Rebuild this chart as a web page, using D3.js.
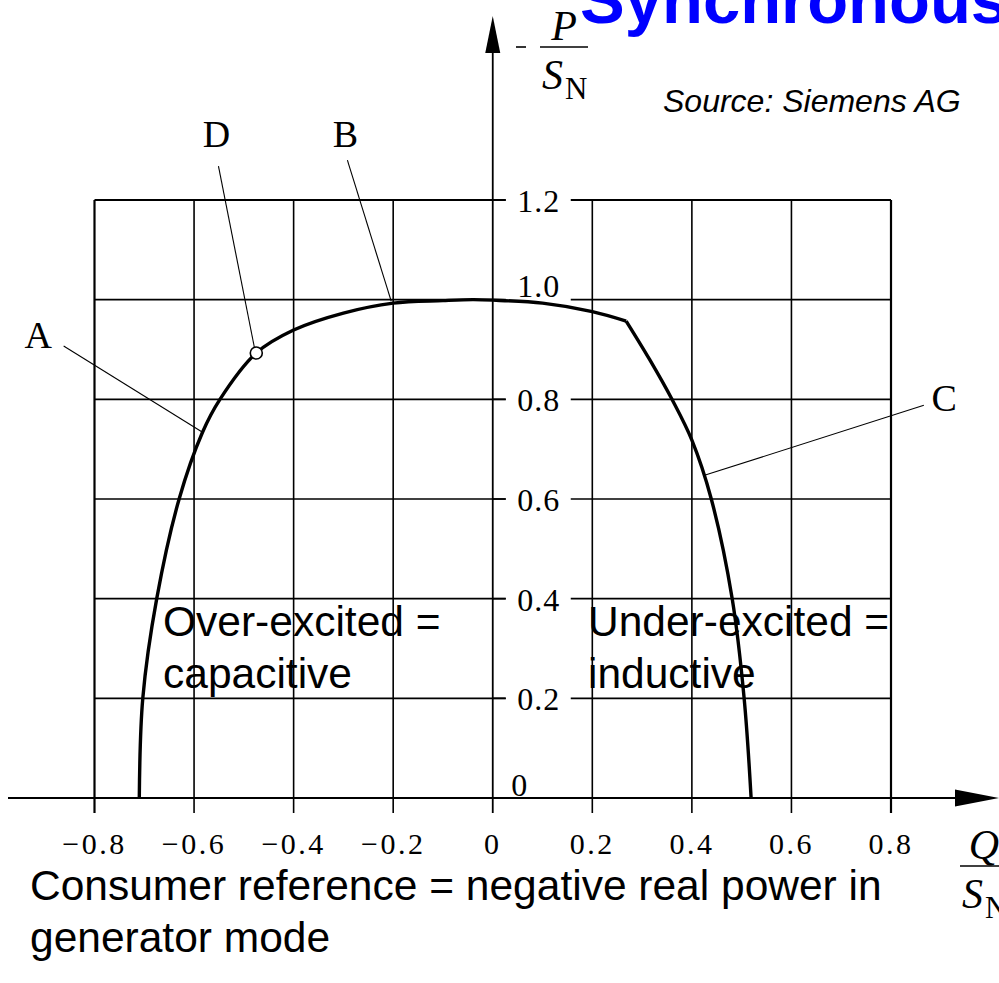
<!DOCTYPE html>
<html>
<head>
<meta charset="utf-8">
<script src="https://cdn.jsdelivr.net/npm/d3@7"></script>
<style>
  html, body { margin: 0; padding: 0; background: #fff; }
  svg { display: block; }
</style>
</head>
<body>
<svg id="chart" width="999" height="983"></svg>
<script>
// Operating limit diagram of a synchronous machine (P/S_N over Q/S_N)
const qTicks = [-0.8, -0.6, -0.4, -0.2, 0, 0.2, 0.4, 0.6, 0.8];
const qTickLabels = ["\u22120.8", "\u22120.6", "\u22120.4", "\u22120.2", "0", "0.2", "0.4", "0.6", "0.8"];
const pTicks = [0, 0.2, 0.4, 0.6, 0.8, 1.0, 1.2];
const pTickLabels = ["0", "0.2", "0.4", "0.6", "0.8", "1.0", "1.2"];

// Limit curve, left branch up to the corner point
const limitLeftQ = [-0.71, -0.703, -0.675, -0.63, -0.583, -0.548, -0.475, -0.40, -0.30, -0.20, -0.10, -0.04, 0.0, 0.10, 0.20, 0.268];
const limitLeftP = [0.0, 0.2, 0.4, 0.6, 0.734, 0.8, 0.893, 0.939, 0.973, 0.993, 0.998, 1.0, 0.999, 0.993, 0.976, 0.957];
// Right branch (stability limit) from the corner point down to P = 0
const limitRightQ = [0.268, 0.315, 0.36, 0.40, 0.439, 0.481, 0.505, 0.519];
const limitRightP = [0.957, 0.88, 0.8, 0.718, 0.6, 0.4, 0.2, 0.0];

// Marked operating point D
const pointD = { q: -0.475, p: 0.893 };

// Letter callouts: label position and leader line (in Q/S_N, P/S_N units)
const calloutNames = ["A", "B", "C", "D"];
const calloutLabelQ = [-0.913, -0.296, 0.907, -0.555];
const calloutLabelP = [0.929, 1.332, 0.802, 1.332];
const calloutFromQ = [-0.862, -0.292, 0.866, -0.551];
const calloutFromP = [0.907, 1.280, 0.788, 1.268];
const calloutToQ = [-0.583, -0.204, 0.427, -0.479];
const calloutToP = [0.734, 0.997, 0.648, 0.905];

const svg = d3.select("#chart");
svg.append("rect").attr("width", 999).attr("height", 983).attr("fill", "#fff");

const x = d3.scaleLinear().domain([-0.8, 0.8]).range([94.5, 891]);
const y = d3.scaleLinear().domain([0, 1.2]).range([798, 200]);

const serif = "'Liberation Serif', 'Times New Roman', serif";
const sans = "'Liberation Sans', Arial, sans-serif";

// Title (runs off the top edge)
svg.append("text")
  .attr("x", 580).attr("y", 23)
  .attr("font-family", sans).attr("font-weight", "bold")
  .attr("font-size", 67).attr("fill", "#0000ff")
  .text("Synchronous");

// Grid
const grid = svg.append("g").attr("stroke", "#000").attr("fill", "none");
pTicks.filter(d => d > 0).forEach(p => {
  grid.append("line")
    .attr("x1", x(-0.8)).attr("x2", x(0.8))
    .attr("y1", y(p)).attr("y2", y(p))
    .attr("stroke-width", p === 1.2 ? 2.2 : 1.6);
});
qTicks.forEach(q => {
  if (q === 0) return;
  grid.append("line")
    .attr("x1", x(q)).attr("x2", x(q))
    .attr("y1", y(1.2)).attr("y2", y(0) + 15)
    .attr("stroke-width", Math.abs(q) === 0.8 ? 2.2 : 1.6);
});

// Gaps in the grid for the P tick labels
pTicks.filter(d => d > 0).forEach(p => {
  svg.append("rect")
    .attr("x", x(0) + 13).attr("y", y(p) - 4)
    .attr("width", 65).attr("height", 8)
    .attr("fill", "#fff");
});

// Axes
svg.append("line")
  .attr("x1", 8).attr("x2", 962).attr("y1", y(0)).attr("y2", y(0))
  .attr("stroke", "#000").attr("stroke-width", 2);
svg.append("path")
  .attr("d", `M999,${y(0)} L955,${y(0) - 8.5} L955,${y(0) + 8.5} Z`)
  .attr("fill", "#000");
svg.append("line")
  .attr("x1", x(0)).attr("x2", x(0)).attr("y1", 48).attr("y2", y(0) + 15)
  .attr("stroke", "#000").attr("stroke-width", 1.8);
svg.append("path")
  .attr("d", `M${x(0)},16 L${x(0) - 7.5},53 L${x(0) + 7.5},53 Z`)
  .attr("fill", "#000");
// short tick stubs to the right of the P axis
pTicks.filter(d => d > 0 && d !== 1.0).forEach(p => {
  svg.append("line")
    .attr("x1", x(0)).attr("x2", x(0) + 13)
    .attr("y1", y(p)).attr("y2", y(p))
    .attr("stroke", "#000").attr("stroke-width", 1.6);
});

// P tick labels
svg.append("g").selectAll("text")
  .data(pTicks)
  .join("text")
  .attr("x", d => d === 0 ? x(0) + 27 : x(0) + 46)
  .attr("y", d => d === 0 ? y(0) - 13 : (d === 1.0 ? y(d) - 14 : y(d) + 1))
  .attr("dominant-baseline", "central")
  .attr("text-anchor", "middle")
  .attr("font-family", serif).attr("font-size", 32)
  .attr("letter-spacing", 1)
  .text((d, i) => pTickLabels[i]);

// Q tick labels
svg.append("g").selectAll("text")
  .data(qTicks)
  .join("text")
  .attr("x", d => x(d))
  .attr("y", 843)
  .attr("dominant-baseline", "central")
  .attr("text-anchor", "middle")
  .attr("font-family", serif).attr("font-size", 30)
  .attr("letter-spacing", 2.5)
  .text((d, i) => qTickLabels[i]);

// Axis titles: -P/S_N and Q/S_N
function fraction(g, cx, top, numer, withMinus) {
  g.append("text").attr("x", cx).attr("y", top + 30)
    .attr("text-anchor", "middle")
    .attr("font-family", serif).attr("font-style", "italic").attr("font-size", 42)
    .text(numer);
  g.append("line").attr("x1", cx - 24).attr("x2", cx + 24)
    .attr("y1", top + 37).attr("y2", top + 37)
    .attr("stroke", "#000").attr("stroke-width", 1.6);
  const s = g.append("text").attr("x", cx - 22).attr("y", top + 79)
    .attr("font-family", serif).attr("font-size", 42);
  s.append("tspan").attr("font-style", "italic").text("S");
  s.append("tspan").attr("font-size", 31).attr("dy", 10).attr("dx", 2).text("N");
  if (withMinus) {
    g.append("line").attr("x1", cx - 48).attr("x2", cx - 38)
      .attr("y1", top + 37).attr("y2", top + 37)
      .attr("stroke", "#000").attr("stroke-width", 1.6);
  }
}
fraction(svg.append("g"), 564, 10, "P", true);
fraction(svg.append("g"), 984, 829, "Q", false);

// Limit curve
const line = d3.line().x(d => x(d[0])).y(d => y(d[1])).curve(d3.curveCatmullRom.alpha(0.5));
const leftPts = limitLeftQ.map((q, i) => [q, limitLeftP[i]]);
const rightPts = limitRightQ.map((q, i) => [q, limitRightP[i]]);
[leftPts, rightPts].forEach(pts => {
  svg.append("path")
    .attr("d", line(pts))
    .attr("fill", "none").attr("stroke", "#000")
    .attr("stroke-width", 3.4).attr("stroke-linejoin", "round");
});

// Callout leader lines and letters
calloutNames.forEach((name, i) => {
  svg.append("line")
    .attr("x1", x(calloutFromQ[i])).attr("y1", y(calloutFromP[i]))
    .attr("x2", x(calloutToQ[i])).attr("y2", y(calloutToP[i]))
    .attr("stroke", "#000").attr("stroke-width", 1.1);
  svg.append("text")
    .attr("x", x(calloutLabelQ[i])).attr("y", y(calloutLabelP[i]))
    .attr("text-anchor", "middle").attr("dominant-baseline", "central")
    .attr("font-family", serif).attr("font-size", 38)
    .text(name);
});

// Operating point D
svg.append("circle")
  .attr("cx", x(pointD.q)).attr("cy", y(pointD.p)).attr("r", 6)
  .attr("fill", "#fff").attr("stroke", "#000").attr("stroke-width", 1.6);

// Region labels
function twoLines(xPos, yBase, a, b) {
  const t = svg.append("text")
    .attr("font-family", sans).attr("font-size", 42.5).attr("fill", "#000");
  t.append("tspan").attr("x", xPos).attr("y", yBase).text(a);
  t.append("tspan").attr("x", xPos).attr("y", yBase + 52).text(b);
}
twoLines(163, 636, "Over-excited =", "capacitive");
twoLines(588, 636, "Under-excited =", "inductive");

// Source note
svg.append("text")
  .attr("x", 663).attr("y", 112)
  .attr("font-family", sans).attr("font-style", "italic").attr("font-size", 32)
  .text("Source: Siemens AG");

// Sign convention note
const note = svg.append("text").attr("font-family", sans).attr("font-size", 42.5);
note.append("tspan").attr("x", 30).attr("y", 900).text("Consumer reference = negative real power in");
note.append("tspan").attr("x", 30).attr("y", 952).text("generator mode");
</script>
</body>
</html>
